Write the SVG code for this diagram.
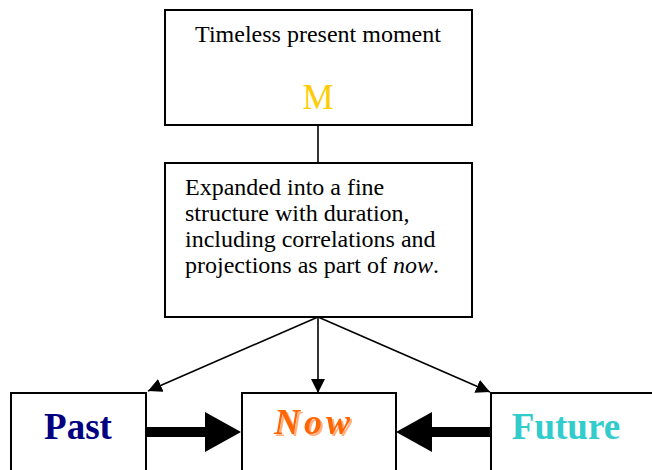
<svg xmlns="http://www.w3.org/2000/svg" width="652" height="470" viewBox="0 0 652 470">
  <defs>
    <style>
      .box { fill: #ffffff; stroke: #000000; stroke-width: 2; }
      text { font-family: "Liberation Serif", "Times New Roman", serif; }
      .thin { stroke: #000000; stroke-width: 1.6; fill: none; }
      .thick { stroke: #000000; stroke-width: 10; fill: none; }
    </style>
    <marker id="head" viewBox="0 0 10 10" refX="10" refY="5" markerWidth="14" markerHeight="14" markerUnits="userSpaceOnUse" orient="auto">
      <path d="M0,0 L10,5 L0,10 z" fill="#000000"/>
    </marker>
    <!-- soft offset shadow for the "Now" label -->
    <filter id="shadow" x="-10%" y="-20%" width="130%" height="150%">
      <feDropShadow dx="2" dy="2" stdDeviation="0.3" flood-color="#FFB080" flood-opacity="1"/>
    </filter>
  </defs>

  <g id="connectors">
    <line class="thin" x1="318" y1="125" x2="318" y2="163"/>
    <line class="thin" x1="318" y1="317" x2="148" y2="391" marker-end="url(#head)"/>
    <line class="thin" x1="318" y1="317" x2="318" y2="393" marker-end="url(#head)"/>
    <line class="thin" x1="318" y1="317" x2="490" y2="392" marker-end="url(#head)"/>
    <!-- heavy arrows into Now -->
    <line class="thick" x1="146" y1="432" x2="208" y2="432"/>
    <polygon points="205,412 241,432 205,452" fill="#000000"/>
    <line class="thick" x1="491" y1="432" x2="430" y2="432"/>
    <polygon points="432,412 396,432 432,452" fill="#000000"/>
  </g>

  <g id="moment">
    <rect class="box" x="165" y="10" width="307" height="115"/>
    <text x="318" y="42" font-size="24" text-anchor="middle" fill="#000000">Timeless present moment</text>
    <text x="318" y="109" font-size="35" text-anchor="middle" fill="#FFCC00">M</text>
  </g>

  <g id="structure">
    <rect class="box" x="165" y="163" width="307" height="154"/>
    <text font-size="24" fill="#000000">
      <tspan x="185" y="195">Expanded into a fine</tspan>
      <tspan x="185" y="221">structure with duration,</tspan>
      <tspan x="185" y="247">including correlations and</tspan>
      <tspan x="185" y="273">projections as part of <tspan font-style="italic">now</tspan>.</tspan>
    </text>
  </g>

  <g id="past">
    <rect class="box" x="11" y="393" width="135" height="80"/>
    <text x="78" y="439" font-size="37" font-weight="bold" text-anchor="middle" fill="#000080">Past</text>
  </g>

  <g id="now">
    <rect class="box" x="242" y="393" width="154" height="80"/>
    <text x="314" y="434" font-size="36" font-weight="bold" font-style="italic" letter-spacing="4" text-anchor="middle" fill="#FF6600" filter="url(#shadow)">Now</text>
  </g>

  <g id="future">
    <rect class="box" x="491" y="393" width="170" height="80"/>
    <text x="566" y="439" font-size="37" font-weight="bold" text-anchor="middle" fill="#33CCCC">Future</text>
  </g>
</svg>
